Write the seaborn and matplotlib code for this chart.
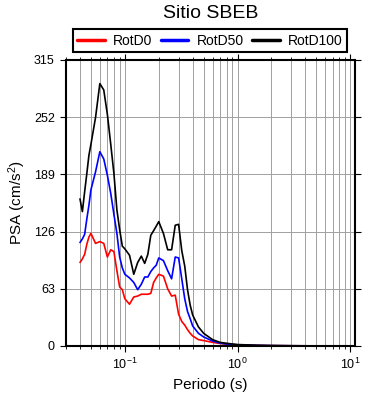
import numpy as np
import pandas as pd
import matplotlib
matplotlib.use("Agg")
import matplotlib.pyplot as plt
import matplotlib.ticker as mticker
import seaborn as sns

# periodos (s)
periodo = [0.04, 0.042, 0.044, 0.046, 0.048, 0.05, 0.055, 0.06, 0.065, 0.07,
           0.075, 0.08, 0.085, 0.09, 0.095, 0.1, 0.11, 0.12, 0.13, 0.14,
           0.15, 0.16, 0.17, 0.18, 0.19, 0.2, 0.22, 0.24, 0.26, 0.28,
           0.3, 0.32, 0.34, 0.36, 0.38, 0.4, 0.45, 0.5, 0.6, 0.7,
           0.8, 0.9, 1.0, 1.5, 2.0, 3.0, 4.0, 5.0, 7.5, 10.0]

rotd0 = [92, 96, 101, 112, 120, 124, 113, 115, 113, 98,
         106, 104, 83, 65, 62, 52, 46, 54, 55, 57,
         57, 57, 58, 70, 75, 79, 77, 63, 55, 56,
         35, 27, 23, 18, 14, 11, 7, 6, 4, 2.8,
         2.0, 1.5, 1.1, 0.6, 0.4, 0.25, 0.18, 0.12, 0.08, 0.05]

rotd50 = [114, 118, 123, 140, 155, 172, 192, 214, 206, 188,
          168, 145, 124, 98, 86, 79, 75, 70, 62, 68,
          76, 76, 82, 86, 89, 97, 94, 83, 74, 98,
          97, 74, 52, 38, 30, 22, 14, 10, 5.5, 3.2,
          2.2, 1.7, 1.3, 0.6, 0.4, 0.25, 0.18, 0.12, 0.08, 0.05]

rotd100 = [162, 148, 170, 190, 210, 222, 252, 289, 282, 255,
           222, 190, 150, 128, 110, 107, 100, 79, 92, 99,
           91, 101, 122, 127, 132, 137, 124, 106, 106, 133,
           134, 105, 88, 62, 45, 34, 21, 14, 7, 4,
           3, 2.2, 1.6, 0.8, 0.5, 0.3, 0.2, 0.15, 0.1, 0.05]

series = ["RotD0", "RotD50", "RotD100"]
colores = ["red", "blue", "black"]

df = pd.concat([
    pd.DataFrame({"Periodo": periodo, "PSA": vals, "Comp": name})
    for name, vals in zip(series, [rotd0, rotd50, rotd100])
])

sns.set_style("ticks")
plt.rcParams["font.family"] = ["Liberation Sans", "DejaVu Sans"]
plt.rcParams["mathtext.fontset"] = "custom"
plt.rcParams["mathtext.rm"] = "Liberation Sans"
plt.rcParams["mathtext.it"] = "Liberation Sans"
for k in ["text.color", "axes.labelcolor", "xtick.color", "ytick.color",
          "xtick.labelcolor", "ytick.labelcolor"]:
    plt.rcParams[k] = "black"

fig = plt.figure(figsize=(3.9, 4.0), dpi=100)
ax = fig.add_axes([0.169, 0.135, 0.741, 0.715])

sns.lineplot(data=df, x="Periodo", y="PSA", hue="Comp", palette=colores,
             hue_order=series, linewidth=1.2, ax=ax, legend=False)

ax.set_xscale("log")
ax.set_xlim(0.03, 11)
ax.set_ylim(0, 315)
ax.set_yticks([0, 63, 126, 189, 252, 315])
ax.xaxis.set_major_locator(mticker.LogLocator(base=10, numticks=10))
ax.xaxis.set_minor_locator(mticker.LogLocator(base=10, subs=np.arange(2, 10), numticks=20))

ax.grid(which="major", axis="both", color="#a0a0a0", linewidth=0.7)
ax.grid(which="minor", axis="x", color="#a0a0a0", linewidth=0.7)
ax.set_axisbelow(True)

for s in ax.spines.values():
    s.set_visible(True)
    s.set_linewidth(1.5)
    s.set_color("black")

ax.tick_params(which="both", direction="out", top=True, right=True,
               labelsize=9, color="black", labelcolor="black")
ax.tick_params(which="major", length=4.5, width=0.8)
ax.tick_params(which="minor", length=2.5, width=0.6)

ax.set_xlabel("Periodo (s)", fontsize=11)
ax.set_ylabel("PSA (cm/s$^2$)", fontsize=11)
ax.set_title("Sitio SBEB", fontsize=14, pad=30)

handles = [plt.Line2D([], [], color=c, linewidth=2.5) for c in colores]
leg = ax.legend(handles, series, ncol=3, loc="lower left",
                bbox_to_anchor=(0.024, 1.029, 0.948, 0.078), mode="expand",
                borderaxespad=0, fontsize=10, frameon=True, fancybox=False,
                handlelength=2.0, handletextpad=0.6, borderpad=0.3)
leg.get_frame().set_edgecolor("black")
leg.get_frame().set_linewidth(1.5)
leg.get_frame().set_alpha(1)
for t in leg.get_texts():
    t.set_color("black")

fig.savefig("out.png", dpi=100)
